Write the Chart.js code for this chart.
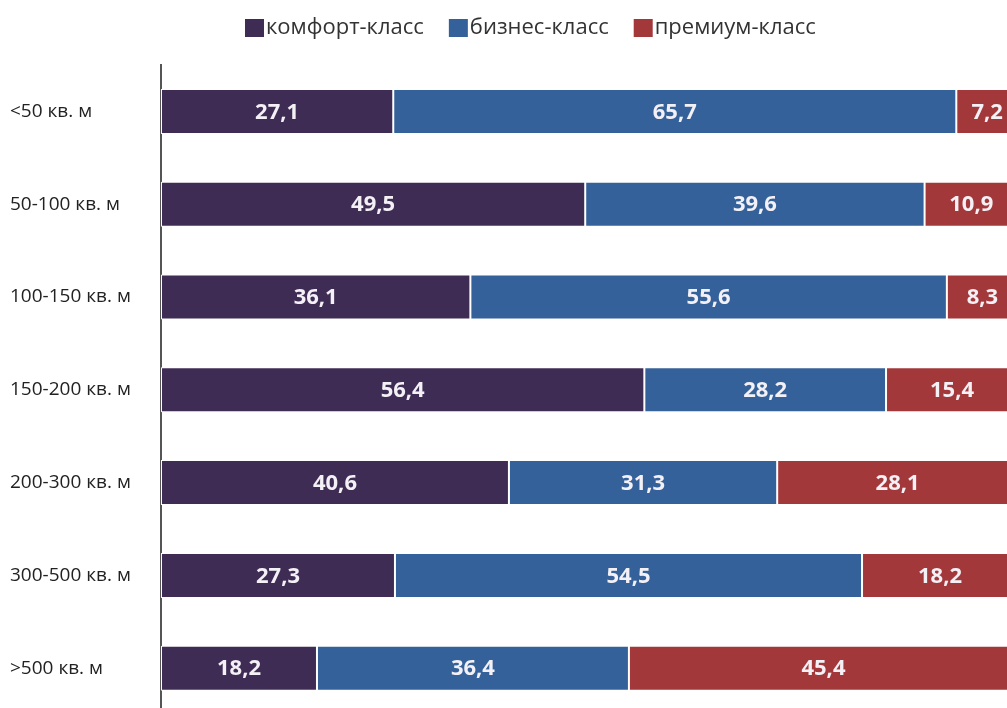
<!DOCTYPE html>
<html lang="ru">
<head>
<meta charset="UTF-8">
<title>Структура предложения по площади</title>
<script src="https://cdn.jsdelivr.net/npm/chart.js"></script>
<style>
    html, body { margin: 0; padding: 0; background: #fff; overflow: hidden; }
    #wrap { width: 1020px; height: 729px; }
</style>
</head>
<body>
<div id="wrap"><canvas id="chart"></canvas></div>
<script>
    const categories = ['<50 кв. м', '50-100 кв. м', '100-150 кв. м', '150-200 кв. м', '200-300 кв. м', '300-500 кв. м', '>500 кв. м'];
    const comfort = [27.1, 49.5, 36.1, 56.4, 40.6, 27.3, 18.2];
    const business = [65.7, 39.6, 55.6, 28.2, 31.3, 54.5, 36.4];
    const premium = [7.2, 10.9, 8.3, 15.4, 28.1, 18.2, 45.4];

    // legend drawn by hand: square marker almost touching the text
    const topLegend = {
        id: 'topLegend',
        afterDraw(chart) {
            const ctx = chart.ctx;
            ctx.save();
            ctx.font = '22px "Open Sans"';
            ctx.textBaseline = 'middle';
            ctx.textAlign = 'left';
            let x = 245;
            const y = 28;
            chart.data.datasets.forEach(ds => {
                ctx.fillStyle = ds.backgroundColor;
                ctx.fillRect(x, y - 9, 19, 18);
                x += 21;
                ctx.fillStyle = '#333';
                ctx.fillText(ds.label, x, y);
                x += ctx.measureText(ds.label).width + 25;
            });
            ctx.restore();
        }
    };

    // white values in the middle of every segment
    const barLabels = {
        id: 'barLabels',
        afterDatasetsDraw(chart) {
            const ctx = chart.ctx;
            ctx.save();
            ctx.font = 'bold 22px "Open Sans"';
            ctx.fillStyle = '#f4f1f6';
            ctx.textAlign = 'center';
            ctx.textBaseline = 'middle';
            chart.data.datasets.forEach((ds, i) => {
                chart.getDatasetMeta(i).data.forEach((bar, j) => {
                    const txt = String(ds.data[j]).replace('.', ',');
                    ctx.fillText(txt, (bar.x + bar.base) / 2, bar.y + 1);
                });
            });
            ctx.restore();
        }
    };

    new Chart(document.getElementById('chart'), {
        type: 'bar',
        data: {
            labels: categories,
            datasets: [
                { label: 'комфорт-класс', data: comfort, backgroundColor: '#3f2c55' },
                { label: 'бизнес-класс', data: business, backgroundColor: '#34619a' },
                { label: 'премиум-класс', data: premium, backgroundColor: '#a3383a' }
            ]
        },
        options: {
            indexAxis: 'y',
            responsive: true,
            maintainAspectRatio: false,
            animation: false,
            layout: { padding: { top: 65, left: 10, right: 2, bottom: 2 } },
            datasets: {
                bar: {
                    categoryPercentage: 1,
                    barPercentage: 0.485,
                    borderColor: '#ffffff',
                    borderWidth: 1,
                    borderSkipped: false
                }
            },
            plugins: {
                legend: { display: false },
                tooltip: { enabled: false }
            },
            scales: {
                x: {
                    stacked: true,
                    min: 0,
                    max: 100,
                    display: false
                },
                y: {
                    stacked: true,
                    afterFit(scale) { scale.width = 151; },
                    border: { display: true, color: '#555', width: 2 },
                    grid: { display: false },
                    ticks: {
                        crossAlign: 'far',
                        color: '#222',
                        font: { family: '"Open Sans"', size: 19 }
                    }
                }
            }
        },
        plugins: [topLegend, barLabels]
    });
</script>
</body>
</html>
